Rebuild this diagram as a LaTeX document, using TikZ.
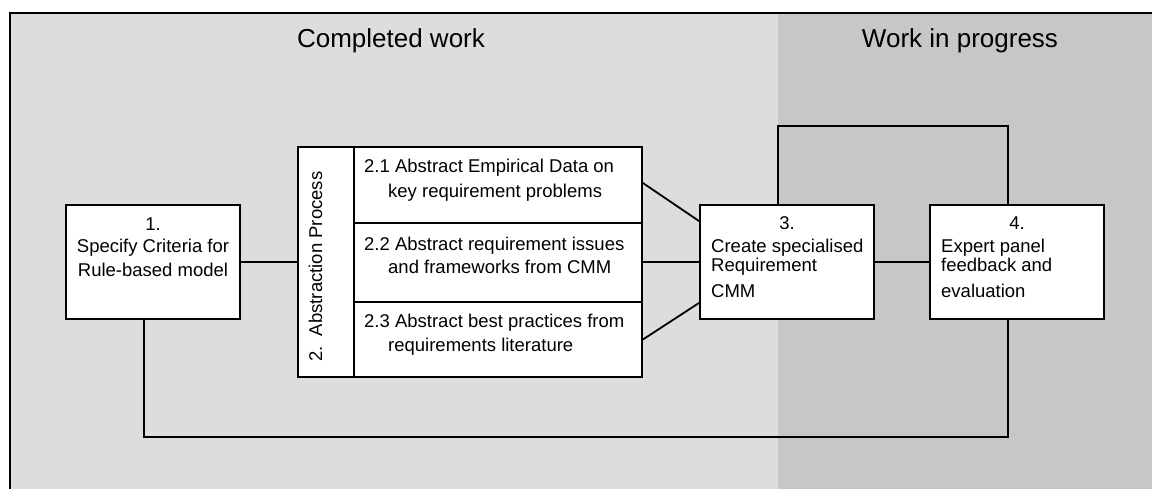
\documentclass[tikz,border=0pt]{standalone}
\usepackage{fontspec}
\setmainfont{Liberation Sans}
\usetikzlibrary{calc}
\definecolor{donebg}{gray}{0.865}
\definecolor{wipbg}{gray}{0.78}
\begin{document}
\begin{tikzpicture}[x=1pt,y=-1pt,
  box/.style={draw=black,fill=white,line width=1.8pt,inner sep=0pt},
  link/.style={draw=black,line width=1.8pt},
  txt/.style={inner sep=0pt,font=\fontsize{18.5}{22}\selectfont},
  title/.style={inner sep=0pt,font=\fontsize{26}{30}\selectfont}]
\useasboundingbox (0,0) rectangle (1152,489);
% background panels
\fill[donebg] (10,13) rectangle (778,489);
\fill[wipbg] (778,13) rectangle (1152,489);
\draw[line width=2pt] (10,489) -- (10,13) -- (1152,13);
% panel titles
\node[title,anchor=base] (tdone) at (391,48) {Completed work};
\node[title,anchor=base] (twip) at (960,48) {Work in progress};
% boxes
\node[box,minimum width=174pt,minimum height=114pt] (b1) at (153,262) {};
\node[box,minimum width=56pt,minimum height=230pt] (abs) at (326,262) {};
\node[box,minimum width=288pt,minimum height=76pt] (s21) at (498,185) {};
\node[box,minimum width=288pt,minimum height=79pt] (s22) at (498,262.5) {};
\node[box,minimum width=288pt,minimum height=75pt] (s23) at (498,339.5) {};
\node[box,minimum width=174pt,minimum height=114pt] (b3) at (787,262) {};
\node[box,minimum width=174pt,minimum height=114pt] (b4) at (1017,262) {};
% box texts
\node[txt,anchor=base] (b1n) at (153,231) {1.};
\node[txt,anchor=base] (b1l1) at (153,253) {Specify Criteria for};
\node[txt,anchor=base] (b1l2) at (153,277) {Rule-based model};
\node[txt,anchor=base west,rotate=90] (absl) at (322,362) {2.\ \ Abstraction Process};
\node[txt,anchor=base west] (s21a) at (364,173) {2.1 Abstract Empirical Data on};
\node[txt,anchor=base west] (s21b) at (388,198) {key requirement problems};
\node[txt,anchor=base west] (s22a) at (364,251) {2.2 Abstract requirement issues};
\node[txt,anchor=base west] (s22b) at (388,274) {and frameworks from CMM};
\node[txt,anchor=base west] (s23a) at (364,327) {2.3 Abstract best practices from};
\node[txt,anchor=base west] (s23b) at (388,352) {requirements literature};
\node[txt,anchor=base] (b3n) at (787,230) {3.};
\node[txt,anchor=base west] (b3l1) at (711,253) {Create specialised};
\node[txt,anchor=base west] (b3l2) at (711,272) {Requirement};
\node[txt,anchor=base west] (b3l3) at (711,298) {CMM};
\node[txt,anchor=base] (b4n) at (1017,230) {4.};
\node[txt,anchor=base west] (b4l1) at (941,253) {Expert panel};
\node[txt,anchor=base west] (b4l2) at (941,272) {feedback and};
\node[txt,anchor=base west] (b4l3) at (941,298) {evaluation};
% connectors
\draw[link] (b1.east) -- (abs.west);
\draw[link] ([yshift=2pt]s21.east) -- ([yshift=-17pt]b3.north west);
\draw[link] (b3.west -| s22.east) -- (b3.west);
\draw[link] (s23.east) -- ([yshift=17pt]b3.south west);
\draw[link] (b3.east) -- (b4.west);
\draw[link] ([xshift=-9pt]b3.north) -- ++(0pt,78pt) -| ([xshift=-9pt]b4.north);
\draw[link] ([xshift=-9pt]b1.south) -- ++(0pt,-117pt) -| ([xshift=-9pt]b4.south);
\end{tikzpicture}
\end{document}
